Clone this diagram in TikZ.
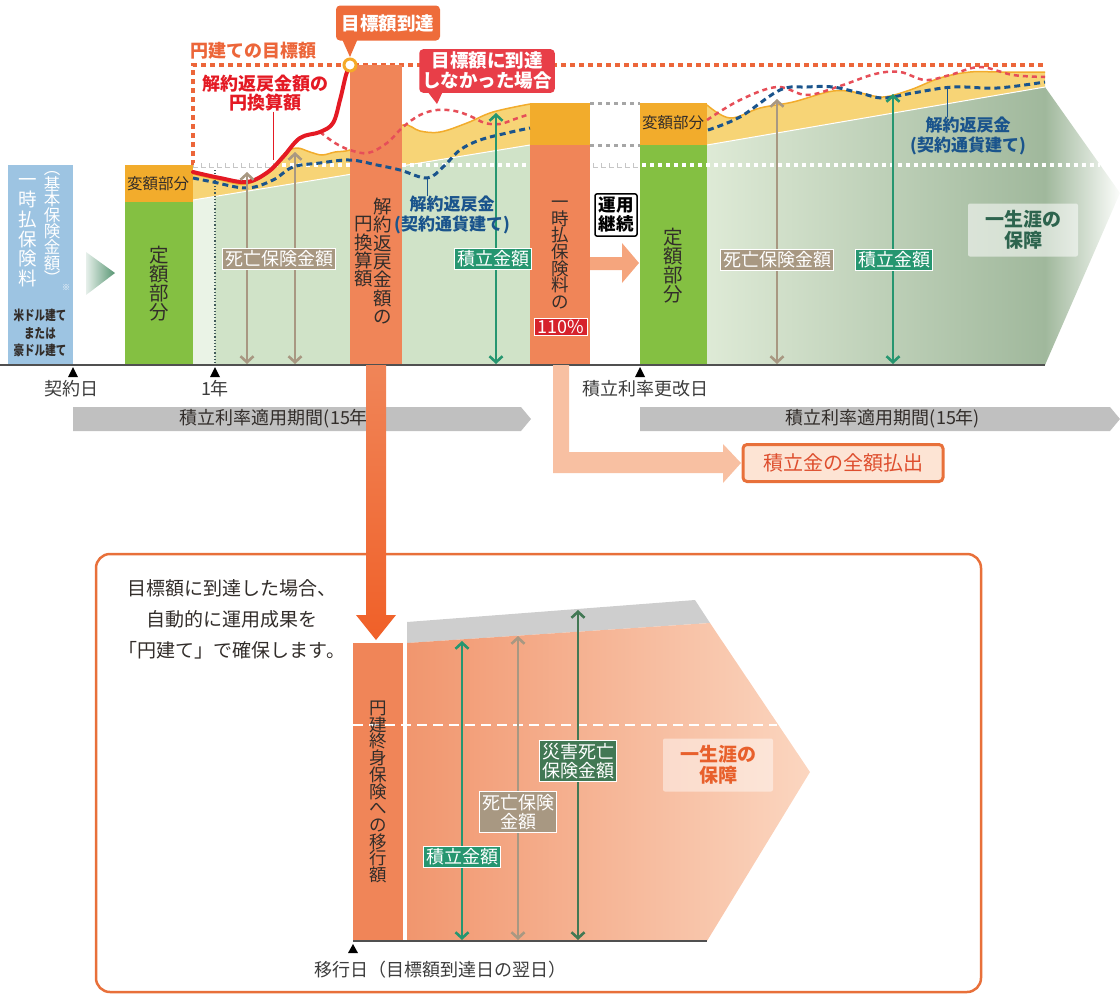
\documentclass[tikz,border=0pt]{standalone}
\usepackage{fontspec}
\setmainfont{Noto Sans CJK JP}
\usetikzlibrary{arrows.meta,calc}

\definecolor{premblue}{RGB}{157,196,226}
\definecolor{fixgreen}{RGB}{132,192,66}
\definecolor{varorange}{RGB}{242,172,44}
\definecolor{areagreen}{RGB}{208,227,200}
\definecolor{bandyellow}{RGB}{247,212,118}
\definecolor{salmon}{RGB}{240,133,88}
\definecolor{goalred}{RGB}{236,102,58}
\definecolor{curvered}{RGB}{228,26,36}
\definecolor{dashred}{RGB}{230,78,88}
\definecolor{dashblue}{RGB}{26,84,140}
\definecolor{deathbrown}{RGB}{168,152,130}
\definecolor{fundgreen}{RGB}{38,150,112}
\definecolor{accgreen}{RGB}{66,120,84}
\definecolor{bargray}{RGB}{192,192,192}
\definecolor{axisgray}{RGB}{80,80,80}
\definecolor{inktext}{RGB}{50,45,42}
\definecolor{lifegreen}{RGB}{45,100,78}
\definecolor{lifeorange}{RGB}{232,96,44}
\definecolor{callred}{RGB}{232,62,72}
\definecolor{calloran}{RGB}{238,108,58}
\definecolor{ringorange}{RGB}{245,170,40}
\definecolor{pctred}{RGB}{214,34,44}
\definecolor{payfill}{RGB}{253,228,212}
\definecolor{paybord}{RGB}{232,112,58}
\definecolor{paytext}{RGB}{222,78,46}
\definecolor{lightsalmon}{RGB}{248,192,162}
\definecolor{midsalmon}{RGB}{245,165,125}
\definecolor{arroworange}{RGB}{240,96,40}
\definecolor{greenlo}{RGB}{222,234,214}
\definecolor{greenhi}{RGB}{160,184,156}
\definecolor{arrowgreen}{RGB}{88,150,115}
\definecolor{graytop}{RGB}{206,206,206}
\definecolor{bsalmonlo}{RGB}{241,150,110}
\definecolor{bsalmonhi}{RGB}{251,214,192}
\definecolor{datetext}{RGB}{60,60,60}

\tikzset{
  vtext/.style={align=center, inner sep=0pt, text=inktext},
  tag/.style={text=white, draw=white, line width=1.2pt, inner sep=2.5pt, align=center,
    font=\fontsize{18}{19.5}\selectfont},
  dblarr/.style={<->, >={Straight Barb[length=6pt,width=13pt]}, line width=2.6pt},
  callout/.style={text=white, font=\bfseries\fontsize{18.5}{20}\selectfont, rounded corners=4pt,
    align=center, inner sep=3pt},
  bluelbl/.style={text=dashblue, font=\bfseries\fontsize{17}{20}\selectfont, align=center, inner sep=0pt},
  lifebox/.style={font=\bfseries\fontsize{19}{21}\selectfont, align=center, fill=white,
    fill opacity=0.55, text opacity=1, minimum width=110pt, minimum height=53pt, rounded corners=2pt},
  datelbl/.style={font=\fontsize{18}{20}\selectfont, text=datetext, inner sep=0pt},
  curveline/.style={smooth, tension=0.6}
}

\begin{document}
\begin{tikzpicture}[x=1pt,y=-1pt]
\useasboundingbox (0,0) rectangle (1120,994);

% dotted guide lines under everything
\draw[gray!45, line width=5pt, dash pattern=on 5pt off 3pt] (193,165) -- (1100,165);
\draw[goalred, line width=4pt, dash pattern=on 5pt off 4pt] (193,165) -- (193,65) -- (1045,65);

% first period
\fill[areagreen] (193,200) -- (530,145) -- (530,365) -- (193,365) -- cycle;
\fill[areagreen!45] (193,200) -- (215,196.5) -- (215,365) -- (193,365) -- cycle;
\fill[bandyellow] (193,200) -- plot[curveline] coordinates {(193,174) (220,180) (247,184) (270,170)
  (285,153) (297,148) (310,152) (322,155) (335,152) (350,150) (376,140) (403,125) (420,131)
  (440,132) (467,123) (493,112) (530,104)} -- (530,145) -- cycle;
\draw[varorange, line width=1.5pt] plot[curveline] coordinates {(193,174) (220,180) (247,184) (270,170)
  (285,153) (297,148) (310,152) (322,155) (335,152) (350,150) (376,140) (403,125) (420,131)
  (440,132) (467,123) (493,112) (530,104)};
\draw[white, line width=1pt] (193,200) -- (530,145);

% second period
\shade[left color=greenlo, right color=greenhi] (707,145) -- (1045,87) -- (1045,365) -- (707,365) -- cycle;
\shade[left color=greenhi, right color=white!90!greenlo] (1045,87) -- (1120,193) -- (1045,365) -- cycle;
\fill[bandyellow] (707,145) -- plot[curveline] coordinates {(707,105) (730,118) (760,108) (793,102)
  (833,91) (860,93) (883,97) (910,90) (940,78) (970,72) (1000,72) (1045,72)} -- (1045,87) -- cycle;
\draw[varorange, line width=1.5pt] plot[curveline] coordinates {(707,105) (730,118) (760,108) (793,102)
  (833,91) (860,93) (883,97) (910,90) (940,78) (970,72) (1000,72) (1045,72)};
\draw[white, line width=1pt] (707,145) -- (1045,87);

% blocks
\fill[premblue] (8,165) rectangle (73,365);
\shade[left color=white!85!arrowgreen, right color=arrowgreen] (86,252) -- (115,273) -- (86,295) -- cycle;
\fill[fixgreen] (125,202) rectangle (193,365);
\fill[varorange] (125,165) rectangle (193,202);
\fill[fixgreen] (640,145) rectangle (707,365);
\fill[varorange] (640,103) rectangle (707,145);

\draw[white, line width=3.5pt, dash pattern=on 3.5pt off 4.5pt, dash phase=7pt] (193,165) -- (1100,165);
\draw[gray!70, line width=3pt, dash pattern=on 4pt off 4pt] (590,103) -- (640,103);
\draw[gray!70, line width=3pt, dash pattern=on 4pt off 4pt] (590,145) -- (640,145);
\draw[axisgray!80!teal, line width=1.2pt, dotted] (215,170) -- (215,365);

\fill[salmon] (350,65) rectangle (402,365);
\fill[salmon] (530,145) rectangle (590,365);
\fill[varorange] (530,103) rectangle (590,145);
\fill[midsalmon] (590,257) -- (622,257) -- (622,243) -- (639,263) -- (622,283) -- (622,270) -- (590,270) -- cycle;

% curves
\coordinate (goalpt) at (350,65);
\draw[dashred, line width=2.5pt, dash pattern=on 5pt off 4pt] plot[curveline] coordinates {(320,132) (335,143)
  (350,150) (368,153) (387,143) (403,127) (420,115) (437,110) (455,111) (470,116) (485,123)
  (500,124) (515,119) (530,114)};
\draw[dashred, line width=2.5pt, dash pattern=on 5pt off 4pt] plot[curveline] coordinates {(707,120) (740,100)
  (777,87) (807,95) (840,86) (875,74) (900,72) (925,80) (950,75) (980,67) (1013,75) (1045,77)};
\draw[dashblue, line width=3pt, dash pattern=on 6pt off 4pt] plot[curveline] coordinates {(193,178) (213,182)
  (247,188) (273,180) (293,167) (320,163) (350,160) (377,165) (400,170) (427,178) (443,167)
  (460,150) (480,140) (507,133) (530,128)};
\draw[dashblue, line width=3pt, dash pattern=on 6pt off 4pt] plot[curveline] coordinates {(708,130) (740,117)
  (780,90) (807,87) (833,87) (860,93) (883,98) (913,93) (953,87) (997,88) (1045,82)};
\draw[curvered, line width=4pt, line cap=round] plot[curveline] coordinates {(193,172) (220,178) (247,182)
  (268,172) (283,157) (300,138) (320,132) (333,123) (340,100) (346,75) (350,65)};
\filldraw[fill=white, draw=ringorange, line width=3pt] (goalpt) circle (6pt);

% amount arrows
\coordinate (d1t) at (247,172); \coordinate (d1b) at (247,364);
\coordinate (d2t) at (295,152); \coordinate (d2b) at (295,364);
\coordinate (f1t) at (496,113); \coordinate (f1b) at (496,364);
\coordinate (d3t) at (777,99);  \coordinate (d3b) at (777,364);
\coordinate (f2t) at (893,94);  \coordinate (f2b) at (893,364);
\draw[dblarr, deathbrown] (d1t) -- (d1b);
\draw[dblarr, deathbrown] (d2t) -- (d2b);
\draw[dblarr, fundgreen] (f1t) -- (f1b);
\draw[dblarr, deathbrown] (d3t) -- (d3b);
\draw[dblarr, fundgreen] (f2t) -- (f2b);

\node[tag, fill=deathbrown] (death1) at (279,259) {死亡保険金額};
\node[tag, fill=fundgreen] (fund1) at (493,259) {積立金額};
\node[tag, fill=deathbrown] (death2) at (777,260) {死亡保険金額};
\node[tag, fill=fundgreen] (fund2) at (894,260) {積立金額};

% texts of the top part
\node[vtext, text=white, font=\fontsize{18.5}{19.8}\selectfont] (prem) at (28,233) {一\\時\\払\\保\\険\\料};
\node[vtext, text=white, font=\fontsize{16.5}{15.8}\selectfont] (basic) at (52,228) {︵\\基\\本\\保\\険\\金\\額\\︶};
\node[text=white, font=\fontsize{8}{8}\selectfont, inner sep=0pt] (kome) at (66,288) {※};
\node[vtext, font=\bfseries\fontsize{13.5}{17.5}\selectfont\addfontfeature{FakeStretch=0.78}] (curr) at (40,333) {米ドル建て\\または\\豪ドル建て};
\node[vtext, font=\fontsize{15.5}{17}\selectfont] (var1) at (158,184) {変額部分};
\node[vtext, font=\fontsize{19.5}{19}\selectfont] (fix1) at (159,284) {定\\額\\部\\分};
\node[vtext, font=\fontsize{15.5}{17}\selectfont] (var2) at (673,123) {変額部分};
\node[vtext, font=\fontsize{19.5}{19}\selectfont] (fix2) at (673,266) {定\\額\\部\\分};
\node[vtext, font=\fontsize{18.5}{18.4}\selectfont] (col1a) at (383,261) {解\\約\\返\\戻\\金\\額\\の};
\node[vtext, font=\fontsize{18.5}{18.4}\selectfont] (col1b) at (364,252) {円\\換\\算\\額};
\node[vtext, font=\fontsize{17.5}{16.6}\selectfont] (col2) at (560,255) {一\\時\\払\\保\\険\\料\\の};
\node[fill=pctred, draw=white, line width=1pt, text=white, font=\fontsize{18}{19}\selectfont,
  inner sep=1.5pt, minimum width=53pt] (pct) at (561,327) {110\%};
\node[draw=black, line width=1.5pt, fill=white, rounded corners=2pt, align=center, inner sep=3.5pt,
  font=\bfseries\fontsize{17.5}{19}\selectfont] (cont) at (616,215) {運用\\継続};

\node[font=\bfseries\fontsize{18}{20}\selectfont, text=goalred, inner sep=0pt] (goallbl) at (253,51) {円建ての目標額};
\node[font=\bfseries\fontsize{18}{19.5}\selectfont, text=curvered, align=center, inner sep=0pt] (yenlbl) at (265,93) {解約返戻金額の\\円換算額};
\coordinate (yenpt) at (273,160);
\draw[curvered, line width=0.8pt] (yenlbl.south -| yenpt) -- (yenpt);

\node[callout, fill=calloran, minimum width=104pt, minimum height=35pt] (goal) at (388,23) {目標額到達};
\fill[calloran] ($(goal.south west)+(6,-2)$) -- ($(goal.south west)+(22,-2)$) -- ($(goalpt)+(0,-8)$) -- cycle;
\node[callout, fill=callred] (miss) at (487,71) {目標額に到達\\しなかった場合};
\coordinate (misspt) at (437,104);
\fill[callred] ($(miss.south west)+(8,-2)$) -- ($(miss.south west)+(24,-2)$) -- (misspt) -- cycle;

\node[bluelbl] (surr1) at (452,215) {解約返戻金\\(契約通貨建て)};
\coordinate (surrpt1) at (427,178);
\draw[dashblue, line width=0.8pt] (surrpt1) -- (surrpt1 |- surr1.north);
\node[bluelbl] (surr2) at (968,136) {解約返戻金\\(契約通貨建て)};
\coordinate (surrpt2) at (947,89);
\draw[dashblue, line width=0.8pt] (surrpt2) -- (surrpt2 |- surr2.north);

\node[lifebox, text=lifegreen] (life1) at (1023,230) {一生涯の\\保障};

% time axis
\draw[axisgray, line width=1.8pt] (0,365) -- (1045,365);
\foreach \x in {73,215,640}
  \fill[black] (\x,367) -- (\x-5,377) -- (\x+5,377) -- cycle;
\node[datelbl] (keiyaku) at (72,389) {契約日};
\node[datelbl] (year1) at (215,389) {1年};
\node[datelbl] (renew) at (645,389) {積立利率更改日};

\fill[bargray] (73,407) -- (521,407) -- (531,419) -- (521,431) -- (73,431) -- cycle;
\node[datelbl, text=inktext] (period1) at (277,419) {積立利率適用期間(15年)};
\fill[bargray] (640,407) -- (1110,407) -- (1120,419) -- (1110,431) -- (640,431) -- cycle;
\node[datelbl, text=inktext] (period2) at (883,419) {積立利率適用期間(15年)};

\fill[lightsalmon] (553,365) -- (569,365) -- (569,452) -- (723,452) -- (723,444) -- (741,463)
  -- (723,483) -- (723,473) -- (553,473) -- cycle;
\node[draw=paybord, line width=3pt, fill=payfill, rounded corners=4pt, text=paytext,
  font=\fontsize{20}{22}\selectfont, minimum width=200pt, minimum height=37pt] (payout) at (843,463) {積立金の全額払出};

% yen part
\draw[paybord, line width=2.5pt, rounded corners=14pt] (96,554) rectangle (981,992);
\shade[top color=salmon, bottom color=arroworange] (366,365) -- (386,365) -- (386,615) -- (396,615)
  -- (376,640) -- (356,615) -- (366,615) -- cycle;

\node[font=\fontsize{19}{31}\selectfont, align=center, text=inktext] (secure) at (232,619)
  {目標額に到達した場合、\\自動的に運用成果を\\「円建て」で確保します。};

\fill[salmon] (353,643) rectangle (403,941);
\fill[graytop] (407,622) -- (695,600) -- (710,623) -- (407,643) -- cycle;
\shade[left color=bsalmonlo, right color=bsalmonhi] (407,643) -- (710,623) -- (810,772) -- (707,941) -- (407,941) -- cycle;
\draw[white, line width=2.5pt, dash pattern=on 10pt off 6pt] (353,725) -- (777,725);
\node[vtext, font=\fontsize{17.5}{16.7}\selectfont] (trans) at (378,792) {円\\建\\終\\身\\保\\険\\へ\\の\\移\\行\\額};

\coordinate (f3t) at (462,641); \coordinate (f3b) at (462,940);
\coordinate (d4t) at (518,636); \coordinate (d4b) at (518,940);
\coordinate (a1t) at (578,610); \coordinate (a1b) at (578,940);
\draw[dblarr, fundgreen] (f3t) -- (f3b);
\draw[dblarr, deathbrown] (d4t) -- (d4b);
\draw[dblarr, accgreen] (a1t) -- (a1b);
\node[tag, fill=fundgreen] (fund3) at (462,857) {積立金額};
\node[tag, fill=deathbrown] (death3) at (518,812) {死亡保険\\金額};
\node[tag, fill=accgreen] (acc1) at (578,761) {災害死亡\\保険金額};
\node[lifebox, text=lifeorange, fill opacity=0.45] (life2) at (718,765) {一生涯の\\保障};

\draw[axisgray, line width=1.8pt] (353,941) -- (707,941);
\fill[black] (353,944) -- (348,953) -- (358,953) -- cycle;
\node[datelbl] (transday) at (440,970) {移行日（目標額到達日の翌日）};
\end{tikzpicture}
\end{document}
